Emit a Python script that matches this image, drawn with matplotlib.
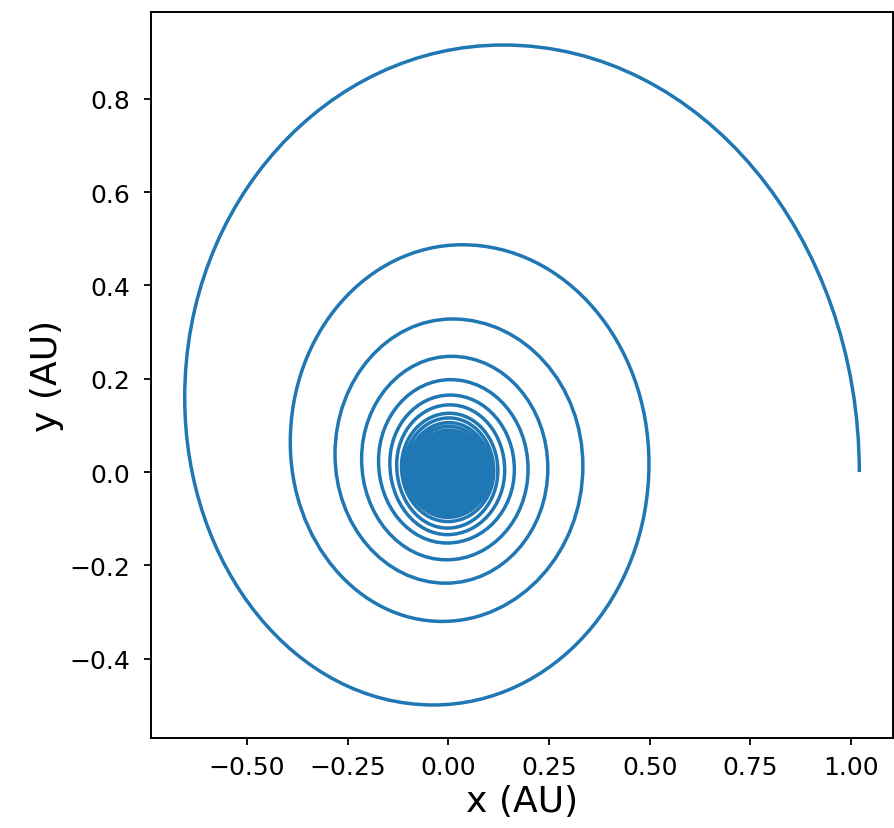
""" Inspiral orbit plot """
import matplotlib.pyplot as plt
from matplotlib.path import Path
from matplotlib.patches import PathPatch

# Extreme points of every turn, in AU
# right -> top -> left -> bottom, counter-clockwise, start at right_x[0]
right_x = [1.02, 0.498, 0.334, 0.247, 0.198, 0.164, 0.140, 0.123, 0.113, 0.105, 0.098,
           0.091, 0.084, 0.077, 0.070, 0.063, 0.056, 0.049, 0.042, 0.035, 0.028, 0.021, 0.014,
           0.008, 0.004]
right_y = [0.0, 0.018, 0.013, 0.008, 0.006, 0.005, 0.004, 0.003, 0.002, 0.002, 0.001,
           0.001, 0.001, 0.0, 0.0, 0.0, 0.0, 0.0, 0.0, 0.0, 0.0, 0.0, 0.0,
           0.0, 0.002]
top_x = [0.137, 0.035, 0.010, 0.008, 0.006, 0.005, 0.004, 0.003, 0.002, 0.002, 0.001,
         0.001, 0.001, 0.0, 0.0, 0.0, 0.0, 0.0, 0.0, 0.0, 0.0, 0.0, 0.0,
         0.0, 0.002]
top_y = [0.915, 0.487, 0.328, 0.248, 0.198, 0.165, 0.144, 0.126, 0.116, 0.106, 0.098,
         0.090, 0.083, 0.076, 0.069, 0.062, 0.055, 0.048, 0.041, 0.034, 0.027, 0.020, 0.013,
         0.007, 0.004]
left_x = [-0.654, -0.392, -0.281, -0.215, -0.173, -0.145, -0.128, -0.116, -0.108, -0.101, -0.094,
          -0.087, -0.080, -0.073, -0.066, -0.059, -0.052, -0.045, -0.038, -0.031, -0.024, -0.017, -0.010,
          -0.005, 0.0]
left_y = [0.160, 0.064, 0.038, 0.028, 0.024, 0.020, 0.016, 0.012, 0.010, 0.008, 0.006,
          0.005, 0.004, 0.003, 0.002, 0.002, 0.001, 0.001, 0.0, 0.0, 0.0, 0.0, 0.0,
          0.0, 0.002]
bottom_x = [-0.037, -0.015, -0.006, -0.004, -0.003, -0.002, -0.002, -0.001, -0.001, -0.001, 0.0,
            0.0, 0.0, 0.0, 0.0, 0.0, 0.0, 0.0, 0.0, 0.0, 0.0, 0.0, 0.0,
            0.0, 0.002]
bottom_y = [-0.499, -0.320, -0.238, -0.188, -0.152, -0.134, -0.120, -0.106, -0.097, -0.090, -0.083,
            -0.076, -0.069, -0.062, -0.055, -0.048, -0.041, -0.034, -0.027, -0.020, -0.013, -0.008, -0.004,
            -0.001, 0.001]

# Punkte in Reihenfolge: R, T, L, B, R, T, ...
pts = []
for i in range(len(right_x)):
    pts.append((right_x[i], right_y[i]))
    pts.append((top_x[i], top_y[i]))
    pts.append((left_x[i], left_y[i]))
    pts.append((bottom_x[i], bottom_y[i]))

# Viertel-Ellipsen als Bezier-Kurven zusammensetzen
k = 0.5523
verts = [pts[0]]
codes = [Path.MOVETO]
for j in range(len(pts) - 1):
    (ax_, ay_), (bx_, by_) = pts[j], pts[j + 1]
    if j % 2 == 0:  # R oder L -> senkrechte Tangente
        c1 = (ax_, ay_ + k * (by_ - ay_))
        c2 = (bx_ + k * (ax_ - bx_), by_)
    else:  # T oder B -> waagrechte Tangente
        c1 = (ax_ + k * (bx_ - ax_), ay_)
        c2 = (bx_, by_ + k * (ay_ - by_))
    verts += [c1, c2, (bx_, by_)]
    codes += [Path.CURVE4] * 3

fig = plt.figure(figsize=(8.95, 8.29), dpi=100)
ax = fig.add_axes([0.1687, 0.1086, 0.8291, 0.8757])
ax.add_patch(PathPatch(Path(verts, codes), facecolor="none", edgecolor="#1f77b4",
                       linewidth=2.5, capstyle="butt", joinstyle="round"))
ax.autoscale_view()

ax.set_xlabel("x (AU)", fontsize=26)
ax.set_ylabel("y (AU)", fontsize=26)
ax.set_xticks([-0.50, -0.25, 0.00, 0.25, 0.50, 0.75, 1.00])
ax.set_yticks([-0.4, -0.2, 0.0, 0.2, 0.4, 0.6, 0.8])
ax.tick_params(labelsize=18, length=5, width=1.3)
ax.tick_params(axis="x", pad=7)
ax.tick_params(axis="y", pad=10)
for s in ax.spines.values():
    s.set_linewidth(1.4)

plt.savefig("out.png")
